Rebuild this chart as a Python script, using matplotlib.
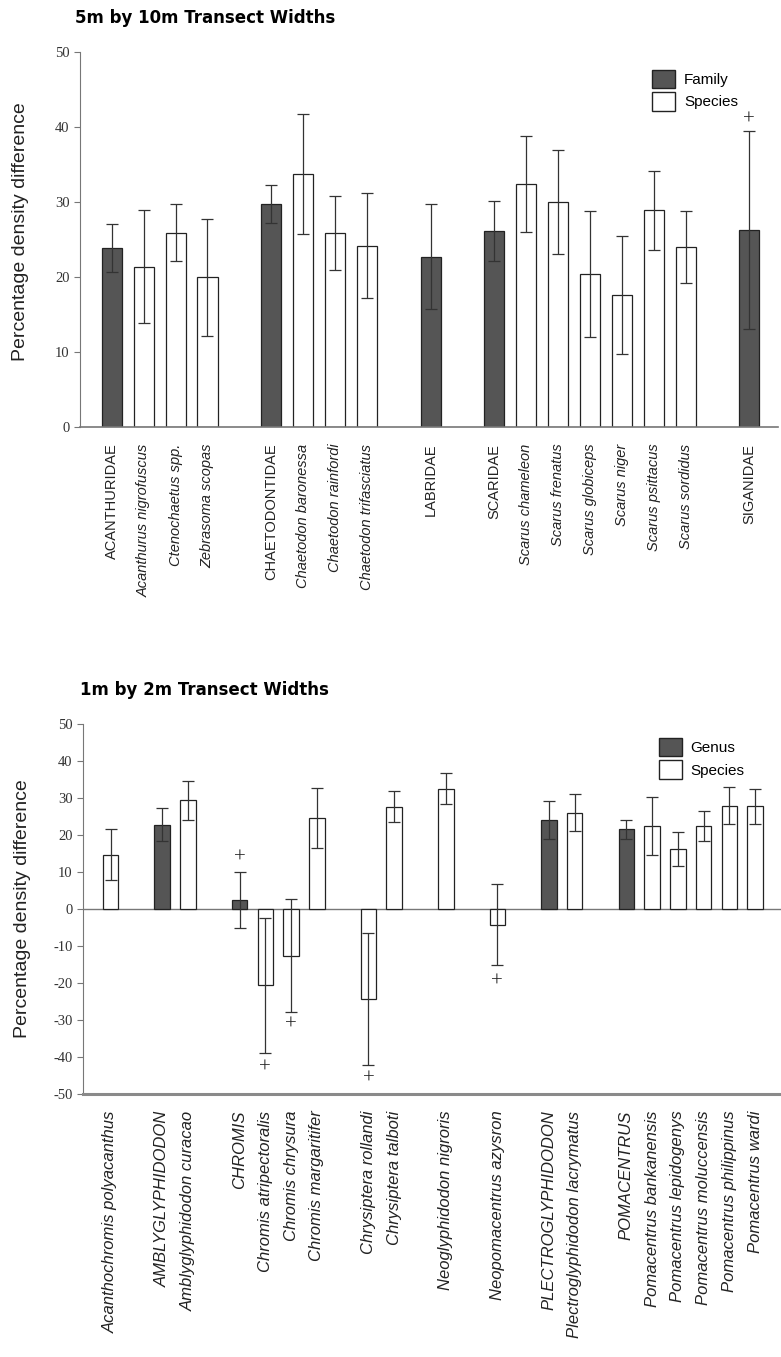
import numpy as np
import matplotlib
matplotlib.use("Agg")
import matplotlib.pyplot as plt
from matplotlib.patches import Patch

plt.rcParams["axes.unicode_minus"] = False

# ---- 5m by 10m transects ----
top_names = ["ACANTHURIDAE", "Acanthurus nigrofuscus", "Ctenochaetus spp.", "Zebrasoma scopas",
             "CHAETODONTIDAE", "Chaetodon baronessa", "Chaetodon rainfordi", "Chaetodon trifasciatus",
             "LABRIDAE",
             "SCARIDAE", "Scarus chameleon", "Scarus frenatus", "Scarus globiceps", "Scarus niger",
             "Scarus psittacus", "Scarus sordidus",
             "SIGANIDAE"]
top_groups = [4, 4, 1, 7, 1]
top_family = [True, False, False, False, True, False, False, False, True,
              True, False, False, False, False, False, False, True]
top_vals = [23.9, 21.4, 25.9, 20.0, 29.7, 33.8, 25.9, 24.2, 22.7,
            26.2, 32.4, 30.0, 20.4, 17.6, 28.9, 24.0, 26.3]
top_err = [3.2, 7.5, 3.8, 7.8, 2.5, 8.0, 4.9, 7.0, 7.0,
           4.0, 6.4, 6.9, 8.4, 7.9, 5.3, 4.8, 13.2]
top_plus = {"SIGANIDAE": 40.9}

# ---- 1m by 2m transects ----
bot_names = ["Acanthochromis polyacanthus",
             "AMBLYGLYPHIDODON", "Amblyglyphidodon curacao",
             "CHROMIS", "Chromis atripectoralis", "Chromis chrysura", "Chromis margaritifer",
             "Chrysiptera rollandi", "Chrysiptera talboti",
             "Neoglyphidodon nigroris",
             "Neopomacentrus azysron",
             "PLECTROGLYPHIDODON", "Plectroglyphidodon lacrymatus",
             "POMACENTRUS", "Pomacentrus bankanensis", "Pomacentrus lepidogenys",
             "Pomacentrus moluccensis", "Pomacentrus philippinus", "Pomacentrus wardi"]
bot_groups = [1, 2, 4, 2, 1, 1, 2, 6]
bot_genus = [False, True, False, True, False, False, False, False, False, False, False,
             True, False, True, False, False, False, False, False]
bot_vals = [14.7, 22.8, 29.4, 2.5, -20.6, -12.6, 24.6, -24.3, 27.6, 32.5, -4.2,
            24.0, 26.0, 21.5, 22.4, 16.2, 22.5, 27.9, 27.8]
bot_err = [6.9, 4.5, 5.3, 7.6, 18.3, 15.2, 8.0, 17.8, 4.2, 4.2, 11.0,
           5.2, 5.0, 2.6, 7.8, 4.7, 4.1, 5.0, 4.7]
bot_plus = {"CHROMIS": 13.8, "Chromis atripectoralis": -43.0, "Chromis chrysura": -31.4,
            "Chrysiptera rollandi": -46.0, "Neopomacentrus azysron": -19.7}


def slot_positions(groups):
    pos = []
    start = 0
    for n in groups:
        pos.extend(range(start, start + n))
        start += n + 1
    return np.array(pos, dtype=float)


DARK = "#555555"
serif = "Liberation Serif"
sans = "Liberation Sans"


def draw_panel(ax, names, groups, dark, vals, errs, plus, width, lab_size):
    x = slot_positions(groups)
    colors = [DARK if d else "white" for d in dark]
    ax.bar(x, vals, width=width, color=colors, edgecolor="#222222", linewidth=0.9, zorder=2)
    ax.errorbar(x, vals, yerr=errs, fmt="none", ecolor="#333333", elinewidth=0.9,
                capsize=4, capthick=0.9, zorder=3)
    for nm, v in plus.items():
        ax.text(x[names.index(nm)], v, "+", ha="center", va="center", fontsize=15,
                family=serif, color="#222222", zorder=4)
    ax.set_xticks(x)
    ax.set_xticklabels(names, rotation=90, family=sans, fontsize=lab_size, color="#222222")
    ax.tick_params(axis="x", length=0, pad=12)
    ax.tick_params(axis="y", labelsize=10.5, labelcolor="#333333", length=4, color="#777777")
    for lbl in ax.get_yticklabels():
        lbl.set_family(serif)
    ax.spines["top"].set_visible(False)
    ax.spines["right"].set_visible(False)
    ax.spines["left"].set_color("#777777")
    ax.set_ylabel("Percentage density difference", family=sans, fontsize=14, color="#222222")


fig = plt.figure(figsize=(7.81, 13.57), dpi=100)

# top panel
ax1 = fig.add_axes([80 / 781, 1 - 427 / 1357, 698 / 781, 375 / 1357])
draw_panel(ax1, top_names, top_groups, top_family, top_vals, top_err, top_plus, 0.63, 10.5)
# family names in the top panel are upright
for lbl, d in zip(ax1.get_xticklabels(), top_family):
    lbl.set_style("normal" if d else "italic")
ax1.set_xlim(-1.0, 20.9)
ax1.set_ylim(0, 50)
ax1.set_yticks([0, 10, 20, 30, 40, 50])
ax1.spines["bottom"].set_color("#777777")
ax1.spines["bottom"].set_linewidth(1.2)
ax1.yaxis.set_label_coords(-0.073, 0.52)
ax1.legend(handles=[Patch(facecolor=DARK, edgecolor="#222222", label="Family"),
                    Patch(facecolor="white", edgecolor="#222222", label="Species")],
           loc="upper left", bbox_to_anchor=(0.80, 0.99), frameon=False,
           prop={"family": sans, "size": 11}, handlelength=1.5, handleheight=1.5,
           handletextpad=0.6, labelspacing=0.25)
fig.text(75 / 781, 1 - 18 / 1357, "5m by 10m Transect Widths", family="DejaVu Sans",
         fontweight="bold", fontsize=12, va="center", ha="left")

# bottom panel
ax2 = fig.add_axes([83 / 781, 1 - 1094 / 1357, 698 / 781, 370 / 1357])
draw_panel(ax2, bot_names, bot_groups, bot_genus, bot_vals, bot_err, bot_plus, 0.6, 12)
# in the bottom panel all names are italic
for lbl in ax2.get_xticklabels():
    lbl.set_style("italic")
ax2.set_xlim(-1.07, 26.0)
ax2.set_ylim(-50, 50)
ax2.set_yticks(np.arange(-50, 51, 10))
ax2.axhline(0, color="#777777", linewidth=1.0, zorder=1)
ax2.spines["bottom"].set_color("#8a8a8a")
ax2.spines["bottom"].set_linewidth(2.2)
ax2.yaxis.set_label_coords(-0.075, 0.5)
ax2.legend(handles=[Patch(facecolor=DARK, edgecolor="#222222", label="Genus"),
                    Patch(facecolor="white", edgecolor="#222222", label="Species")],
           loc="upper left", bbox_to_anchor=(0.805, 1.0), frameon=False,
           prop={"family": sans, "size": 11}, handlelength=1.5, handleheight=1.5,
           handletextpad=0.6, labelspacing=0.25)
fig.text(80 / 781, 1 - 690 / 1357, "1m by 2m Transect Widths", family="DejaVu Sans",
         fontweight="bold", fontsize=12, va="center", ha="left")

fig.savefig("out.png", dpi=100)
